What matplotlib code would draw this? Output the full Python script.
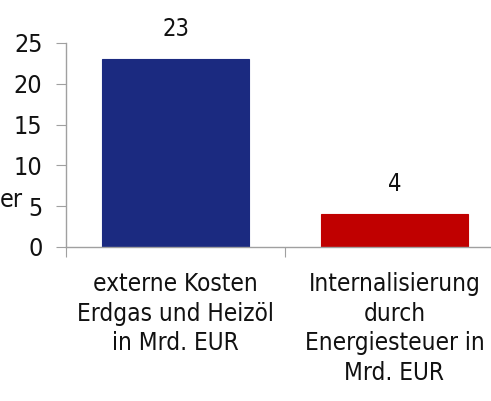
import matplotlib.pyplot as plt

categories = ["externe Kosten\nErdgas und Heizöl\nin Mrd. EUR",
              "Internalisierung\ndurch\nEnergiesteuer in\nMrd. EUR"]
values = [23, 4]
colors = ["#1b2a80", "#c00000"]
yticks = [0, 5, 10, 15, 20, 25]

plt.rcParams['font.family'] = ['DejaVu Sans']
plt.rcParams['font.stretch'] = 'condensed'

fig = plt.figure(figsize=(4.91, 4.01), dpi=100)
ax = fig.add_axes([66 / 491, 154 / 401, 438 / 491, 204 / 401])

x = range(len(values))
bars = ax.bar(x, values, width=0.67, color=colors, edgecolor=colors, linewidth=0.8)

for b, v in zip(bars, values):
    ax.annotate(str(v), (b.get_x() + b.get_width() / 2, v), xytext=(0, 13),
                textcoords='offset points', ha='center', va='bottom',
                fontsize=17, color='#111111')

ax.set_ylim(0, 25)
ax.set_xlim(-0.5, 1.5)
ax.set_yticks(yticks)
ax.set_yticklabels([str(t) for t in yticks], fontsize=18, color='#111111')
ax.set_xticks([-0.5, 0.5, 1.5])
ax.set_xticklabels([])
ax.set_xticks(list(x), minor=True)
ax.set_xticklabels(categories, minor=True, fontsize=17.5, color='#111111', linespacing=1.3)
ax.tick_params(axis='x', which='minor', length=0, pad=18)
ax.tick_params(axis='x', which='major', length=7, color='#a0a0a0', direction='out')
ax.tick_params(axis='y', length=7, color='#a0a0a0', pad=10)

for s in ['top', 'right']:
    ax.spines[s].set_visible(False)
for s in ['left', 'bottom']:
    ax.spines[s].set_color('#a0a0a0')
    ax.spines[s].set_linewidth(1.0)

fig.text(0.0, (401 - 200) / 401, "er", fontsize=18, color='#111111',
         ha='left', va='center')

fig.savefig("out.png", dpi=100)
